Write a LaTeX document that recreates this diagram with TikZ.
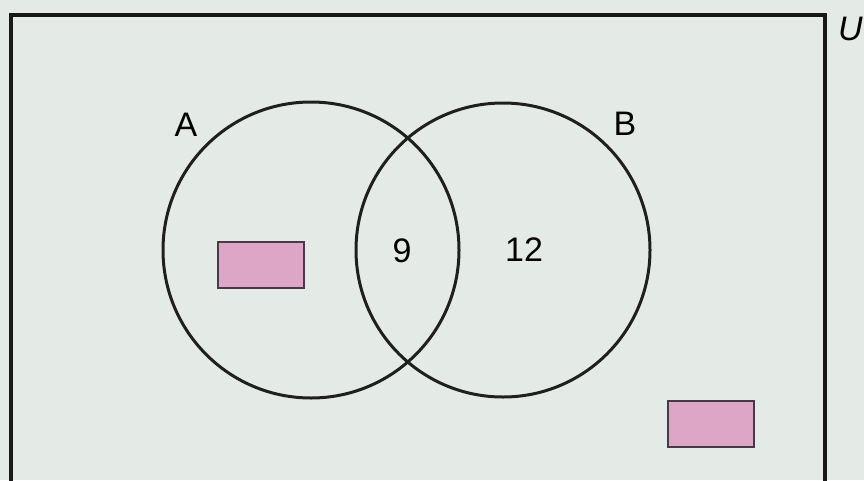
\documentclass[tikz,border=0pt]{standalone}
\usepackage{fontspec}
\setmainfont{Liberation Sans}
\definecolor{bgc}{HTML}{E4EBE6}
\definecolor{pinkc}{HTML}{DDA6C6}
\definecolor{pinkedge}{HTML}{4A3A48}
\begin{document}
\begin{tikzpicture}[x=1pt,y=-1pt,
  lbl/.style={font=\fontsize{34}{40}\selectfont, inner sep=0pt},
  setc/.style={draw=black!88, line width=3pt},
  pinkbox/.style={draw=pinkedge, line width=1.6pt, fill=pinkc, minimum width=86pt, minimum height=46pt, inner sep=0pt}]
\fill[bgc] (0,0) rectangle (864,480);
\useasboundingbox (0,0) rectangle (864,480);
\draw[line width=3.5pt, draw=black!90] (11,490) -- (11,15) -- (825,15) -- (825,490);
\node[lbl, anchor=west, font=\fontsize{34}{40}\selectfont\itshape] (u) at (838,29) {U};
\draw[setc] (311,250) circle (148);
\draw[setc] (503,250) circle (147);
\node[lbl] (a) at (186,125) {A};
\node[lbl] (b) at (625,124) {B};
\node[lbl] (n9) at (402,251) {9};
\node[lbl] (n12) at (524,250) {12};
\node[pinkbox] (p1) at (261,265) {};
\node[pinkbox] (p2) at (711,424) {};
\end{tikzpicture}
\end{document}
